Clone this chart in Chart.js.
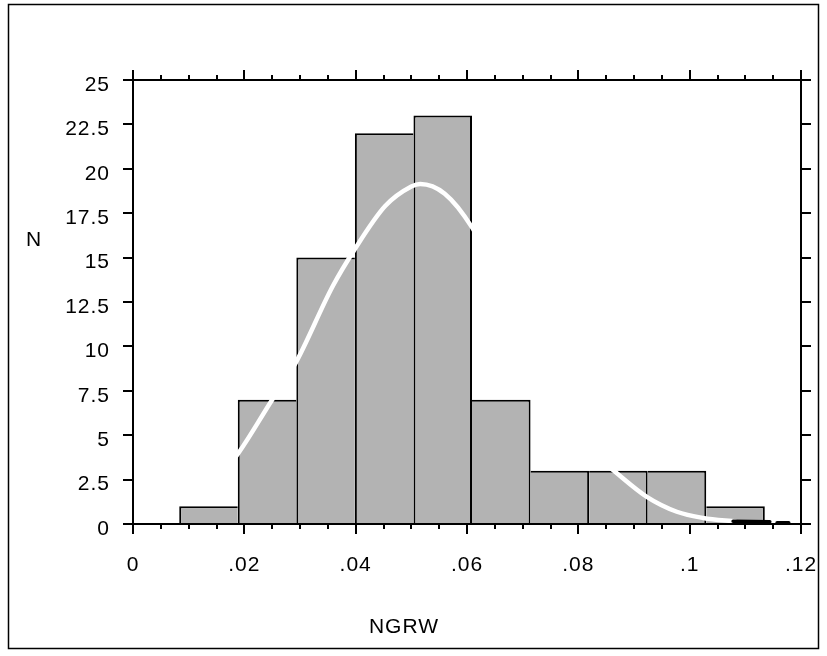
<!DOCTYPE html>
<html>
<head>
<meta charset="utf-8">
<script src="https://cdn.jsdelivr.net/npm/chart.js@4.4.1/dist/chart.umd.min.js"></script>
<style>
  html, body { margin: 0; padding: 0; background: #fff; }
  #wrap { width: 827px; height: 656px; }
</style>
</head>
<body>
<div id="wrap"><canvas id="chart" width="827" height="656"></canvas></div>
<script>
// histogram of NGRW
const binStart = 0.0083;
const binWidth = 0.01052;
const counts = [1, 7, 15, 22, 23, 7, 3, 3, 3, 1];

// smooth density curve (white)
const curveX = [0.010, 0.0145, 0.0185, 0.025, 0.0291, 0.0359, 0.0397, 0.0453, 0.050, 0.0516, 0.056, 0.0609, 0.065, 0.070, 0.075, 0.080, 0.0866, 0.0923, 0.0977, 0.1024, 0.1084];
const curveY = [1.2, 2.3, 3.8, 7.0, 9.0, 13.4, 15.4, 17.9, 19.0, 19.15, 18.6, 16.7, 14.2, 10.8, 7.6, 4.7, 2.94, 1.53, 0.69, 0.34, 0.13];

// small dark dashes at the tail
const tailX = [0.1078, 0.1144, 0.115, 0.1157, 0.1178];
const tailY = [0.16, 0.13, null, 0.07, 0.07];

const xTickLabels = ['0', '.02', '.04', '.06', '.08', '.1', '.12'];
const yTickLabels = ['0', '2.5', '5', '7.5', '10', '12.5', '15', '17.5', '20', '22.5', '25'];

const FONT = "'Liberation Sans', Arial, sans-serif";

const barPoints = counts.map((c, i) => ({ x: binStart + (i + 0.5) * binWidth, y: c }));
const curvePoints = curveX.map((v, i) => ({ x: v, y: curveY[i] }));
const tailPoints = tailX.map((v, i) => ({ x: v, y: tailY[i] }));

const last = counts.length - 1;
function barBorder(ctx) {
  const i = ctx.dataIndex;
  const h = counts[i];
  return {
    top: 2,
    bottom: 0,
    left: (i === 0 || counts[i - 1] < h) ? 2 : 0,
    right: (i === last || counts[i + 1] <= h) ? 2 : 0
  };
}

// outer frame, axis box, ticks and the two axis titles
const frameAndTicks = {
  id: 'frameAndTicks',
  beforeDraw(chart) {
    chart.ctx.letterSpacing = '1px';
  },
  afterDatasetsDraw(chart) {
    const { ctx, chartArea: a, scales: { x, y } } = chart;
    ctx.save();
    ctx.strokeStyle = '#000';
    ctx.lineWidth = 2;
    ctx.lineCap = 'butt';
    ctx.beginPath();
    ctx.rect(a.left, a.top, a.right - a.left, a.bottom - a.top);
    // x ticks, major every .02, minor every .005
    for (let i = 0; i <= 24; i++) {
      const px = Math.round(x.getPixelForValue(i * 0.005));
      const len = i % 4 === 0 ? 10 : 5;
      ctx.moveTo(px, a.bottom); ctx.lineTo(px, a.bottom + len);
      ctx.moveTo(px, a.top); ctx.lineTo(px, a.top - len);
    }
    y.ticks.forEach(t => {
      const py = Math.round(y.getPixelForValue(t.value));
      ctx.moveTo(a.left, py); ctx.lineTo(a.left - 10, py);
      ctx.moveTo(a.right, py); ctx.lineTo(a.right + 10, py);
    });
    ctx.stroke();

    ctx.lineWidth = 1.5;
    ctx.strokeRect(8.5, 4.5, 810, 644);

    ctx.fillStyle = '#000';
    ctx.font = '21px ' + FONT;
    ctx.textAlign = 'center';
    ctx.textBaseline = 'middle';
    ctx.fillText('N', 34, 240);
    ctx.fillText('NGRW', 404, 627);
    ctx.restore();
  }
};

new Chart(document.getElementById('chart'), {
  type: 'bar',
  data: {
    datasets: [
      {
        type: 'line',
        data: tailPoints,
        borderColor: '#000',
        borderWidth: 3.5,
        borderCapStyle: 'round',
        pointRadius: 0,
        spanGaps: false,
        clip: false,
        order: 0
      },
      {
        type: 'line',
        data: curvePoints,
        borderColor: '#fff',
        borderWidth: 4.5,
        pointRadius: 0,
        cubicInterpolationMode: 'monotone',
        order: 1
      },
      {
        type: 'bar',
        data: barPoints,
        backgroundColor: '#b3b3b3',
        borderColor: '#000',
        borderWidth: barBorder,
        borderSkipped: false,
        inflateAmount: 0,
        barPercentage: 1,
        categoryPercentage: 1,
        order: 2
      }
    ]
  },
  options: {
    responsive: false,
    animation: false,
    events: [],
    layout: { padding: { top: 80, right: 26, left: 0, bottom: 0 } },
    plugins: { legend: { display: false }, tooltip: { enabled: false } },
    scales: {
      x: {
        type: 'linear',
        min: 0,
        max: 0.12,
        offset: false,
        grid: { display: false, drawTicks: false },
        border: { display: false },
        ticks: {
          stepSize: 0.02,
          padding: 29,
          maxRotation: 0,
          autoSkip: false,
          color: '#000',
          font: { family: FONT, size: 21 },
          callback: (v, i) => xTickLabels[i]
        },
        afterFit: s => { s.height = 132; s.paddingLeft = 0; s.paddingRight = 0; }
      },
      y: {
        min: 0,
        max: 25,
        grid: { display: false, drawTicks: false },
        border: { display: false },
        ticks: {
          stepSize: 2.5,
          padding: 23,
          labelOffset: 5,
          color: '#000',
          font: { family: FONT, size: 21 },
          callback: (v, i) => yTickLabels[i]
        },
        afterFit: s => { s.width = 133; s.paddingTop = 0; s.paddingBottom = 0; }
      }
    }
  },
  plugins: [frameAndTicks]
});
</script>
</body>
</html>
